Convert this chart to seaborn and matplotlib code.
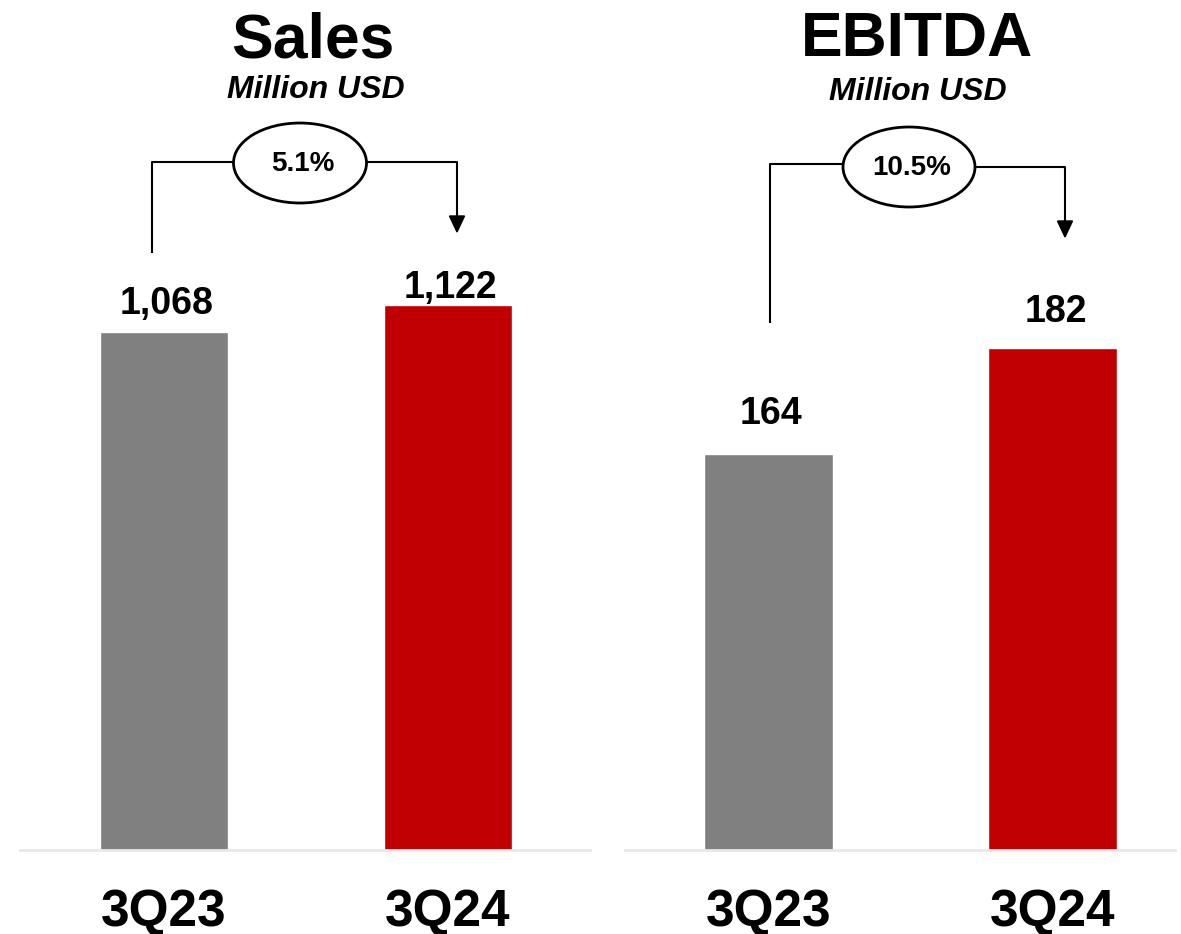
import matplotlib
matplotlib.use("Agg")
import matplotlib.pyplot as plt
from matplotlib.patches import Ellipse, Polygon
import seaborn as sns
import pandas as pd

# ---- data -------------------------------------------------------------
quarters = ["3Q23", "3Q24"]
sales = [1068, 1122]
ebitda = [164, 182]
sales_labels = ["1,068", "1,122"]
ebitda_labels = ["164", "182"]
sales_growth = "5.1%"
ebitda_growth = "10.5%"
panel_titles = ["Sales", "EBITDA"]
unit_label = "Million USD"

# ---- style ------------------------------------------------------------
sns.set_theme(style="white")
plt.rcParams["font.family"] = ["Liberation Sans", "DejaVu Sans"]
bar_colors = {"3Q23": "#808080", "3Q24": "#C00000"}

W, H = 1181, 934
fig = plt.figure(figsize=(W / 100, H / 100), dpi=100)


def px_rect(x0, x1, y_top, y_bot):
    return [x0 / W, 1 - y_bot / H, (x1 - x0) / W, (y_bot - y_top) / H]


# axes extents (pixels) and value ranges for each panel
ax_sales = fig.add_axes(px_rect(20, 590, 100, 850))
ax_ebitda = fig.add_axes(px_rect(625, 1175, 100, 850))

panels = [
    (ax_sales, sales, sales_labels, (0, 1545.4), (-0.507, 1.5), [18, 7]),
    (ax_ebitda, ebitda, ebitda_labels, (96.75, 224.1), (-0.505, 1.43), [30, 26]),
]

for ax, values, labels, ylim, xlim, gaps in panels:
    df = pd.DataFrame({"quarter": quarters, "value": values})
    sns.barplot(data=df, x="quarter", y="value", hue="quarter",
                palette=bar_colors, width=0.454, legend=False,
                saturation=1, ax=ax)
    ax.set_ylim(*ylim)
    ax.set_xlim(*xlim)
    ax.set_xlabel("")
    ax.set_ylabel("")
    ax.set_yticks([])
    for side in ["top", "left", "right"]:
        ax.spines[side].set_visible(False)
    ax.spines["bottom"].set_color("#e8e8e8")
    ax.spines["bottom"].set_linewidth(2)
    ax.tick_params(axis="x", length=0, pad=27, labelsize=37)
    for t in ax.get_xticklabels():
        t.set_fontweight("bold")
        t.set_color("black")
    for i, (v, lab, gap) in enumerate(zip(values, labels, gaps)):
        ax.annotate(lab, xy=(i, v), xytext=(2, gap * 0.72),
                    textcoords="offset points", ha="center", va="baseline",
                    fontsize=27, fontweight="bold", color="black")

# ---- overlay for titles and growth brackets ---------------------------
ov = fig.add_axes([0, 0, 1, 1])
ov.set_xlim(0, W)
ov.set_ylim(H, 0)
ov.axis("off")
ov.patch.set_alpha(0)

ov.text(313, 57, panel_titles[0], ha="center", va="baseline",
        fontsize=45, fontweight="bold", color="black")
ov.text(316, 98, unit_label, ha="center", va="baseline",
        fontsize=23, fontweight="bold", fontstyle="italic", color="black")
ov.text(917, 56, panel_titles[1], ha="center", va="baseline",
        fontsize=45, fontweight="bold", color="black")
ov.text(918, 100, unit_label, ha="center", va="baseline",
        fontsize=23, fontweight="bold", fontstyle="italic", color="black")


def growth_bracket(x_left, y_start, y_left, ell_cx, ell_cy, ell_w, ell_h,
                   y_right, x_right, y_tip, text):
    lw = 1.5
    ov.plot([x_left, x_left, ell_cx - ell_w / 2], [y_start, y_left, y_left],
            color="black", lw=lw, solid_capstyle="butt")
    ov.plot([ell_cx + ell_w / 2, x_right, x_right], [y_right, y_right, y_tip - 14],
            color="black", lw=lw, solid_capstyle="butt")
    ov.add_patch(Polygon([[x_right - 7.5, y_tip - 16], [x_right + 7.5, y_tip - 16],
                          [x_right, y_tip]], closed=True, color="black"))
    ov.add_patch(Ellipse((ell_cx, ell_cy), ell_w, ell_h, facecolor="white",
                         edgecolor="black", lw=2))
    ov.text(ell_cx + 3, ell_cy + 1, text, ha="center", va="center",
            fontsize=20, fontweight="bold", color="black")


growth_bracket(152, 253, 162, 300, 163, 133, 80, 162, 457, 232, sales_growth)
growth_bracket(770, 323, 164, 909, 167, 132, 80, 167, 1065, 237, ebitda_growth)

fig.savefig("out.png", dpi=100, facecolor="white")
